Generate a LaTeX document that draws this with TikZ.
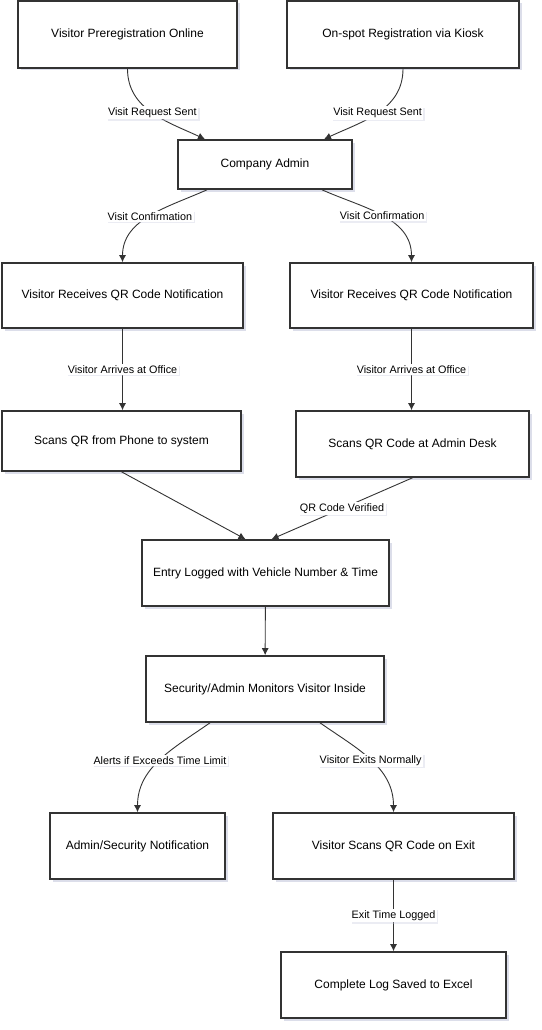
\documentclass[tikz,border=0pt]{standalone}
\usepackage{fontspec}
\setmainfont{Liberation Sans}
\usetikzlibrary{arrows.meta, shadows}

\definecolor{boxline}{HTML}{333333}
\definecolor{edgeline}{HTML}{333333}
\definecolor{shade}{HTML}{C5C8DC}

\begin{document}
\begin{tikzpicture}[
  x=1pt, y=1pt,
  stage/.style={rectangle, draw=boxline, line width=1.6pt, fill=white,
    font=\fontsize{12}{14}\selectfont,
    drop shadow={shadow xshift=2.5pt, shadow yshift=-2.5pt, fill=shade, opacity=0.6}},
  tag/.style={fill=white, inner sep=1.5pt, font=\fontsize{10.8}{13}\selectfont,
    drop shadow={shadow xshift=1.5pt, shadow yshift=-1.5pt, fill=shade, opacity=0.35}},
  flow/.style={-{Latex[length=7pt, width=7pt]}, draw=edgeline, line width=0.9pt}
]
  \useasboundingbox (0,0) rectangle (541,-1030);

  \node[stage, minimum width=219pt, minimum height=67pt] (prereg) at (127.5,-34.5) {Visitor Preregistration Online};
  \node[stage, minimum width=232pt, minimum height=67pt] (kiosk) at (403,-34.5) {On-spot Registration via Kiosk};
  \node[stage, minimum width=174pt, minimum height=49pt] (admin) at (265,-164.5) {Company Admin};
  \node[stage, minimum width=241pt, minimum height=65pt] (qrl) at (122.5,-295.5) {Visitor Receives QR Code Notification};
  \node[stage, minimum width=243pt, minimum height=65pt] (qrr) at (411.5,-295.5) {Visitor Receives QR Code Notification};
  \node[stage, minimum width=239pt, minimum height=60pt] (scanl) at (121.5,-441) {Scans QR from Phone to system};
  \node[stage, minimum width=233pt, minimum height=66pt] (scanr) at (412.5,-444) {Scans QR Code at Admin Desk};
  \node[stage, minimum width=247pt, minimum height=66pt] (entry) at (265.5,-573) {Entry Logged with Vehicle Number \& Time};
  \node[stage, minimum width=238pt, minimum height=66pt] (monitor) at (265,-689) {Security/Admin Monitors Visitor Inside};
  \node[stage, minimum width=175pt, minimum height=66pt] (notif) at (137.5,-846) {Admin/Security Notification};
  \node[stage, minimum width=241pt, minimum height=66pt] (exitscan) at (393.5,-846) {Visitor Scans QR Code on Exit};
  \node[stage, minimum width=225pt, minimum height=66pt] (excel) at (393.5,-985) {Complete Log Saved to Excel};

  \draw[flow] (prereg.south) to[out=-90, in=155] node[tag] (sent1) {Visit Request Sent} ([xshift=-60pt]admin.north);
  \draw[flow] (kiosk.south) to[out=-90, in=25] node[tag] (sent2) {Visit Request Sent} ([xshift=59pt]admin.north);
  \draw[flow] ([xshift=-58pt]admin.south) to[out=-156, in=90] node[tag] (conf1) {Visit Confirmation} (qrl.north);
  \draw[flow] ([xshift=57pt]admin.south) to[out=-24, in=90] node[tag] (conf2) {Visit Confirmation} (qrr.north);
  \draw[flow] (qrl.south) -- node[tag] (arrive1) {Visitor Arrives at Office} (qrl.south |- scanl.north);
  \draw[flow] (qrr.south) -- node[tag] (arrive2) {Visitor Arrives at Office} (qrr.south |- scanr.north);
  \draw[flow] (scanl.south) -- ([xshift=-20pt]entry.north);
  \draw[flow] (scanr.south) -- node[tag] (verified) {QR Code Verified} ([xshift=6pt]entry.north);
  \draw[flow] (entry) -- (monitor);
  \draw[flow] ([xshift=-55pt]monitor.south) to[out=-145, in=90] node[tag] (alert) {Alerts if Exceeds Time Limit} (notif.north);
  \draw[flow] ([xshift=55pt]monitor.south) to[out=-35, in=90] node[tag] (exits) {Visitor Exits Normally} (exitscan.north);
  \draw[flow] (exitscan) -- node[tag] (logged) {Exit Time Logged} (excel);
\end{tikzpicture}
\end{document}
